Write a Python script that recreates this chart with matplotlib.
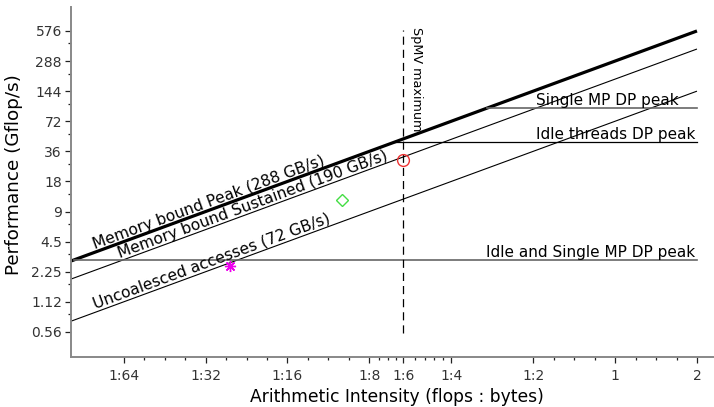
import numpy as np
import matplotlib
matplotlib.use("Agg")
import matplotlib.pyplot as plt
from matplotlib.ticker import FixedLocator, NullFormatter

# ---- data ----
x_ticks = [1/64, 1/32, 1/16, 1/8, 1/6, 1/4, 1/2, 1, 2]
x_tick_labels = ["1:64", "1:32", "1:16", "1:8", "1:6", "1:4", "1:2", "1", "2"]
y_ticks = [0.5625, 1.125, 2.25, 4.5, 9, 18, 36, 72, 144, 288, 576]
y_tick_labels = ["0.56", "1.12", "2.25", "4.5", "9", "18", "36", "72", "144", "288", "576"]

bandwidth_names = ["Memory bound Peak (288 GB/s)",
                   "Memory bound Sustained (190 GB/s)",
                   "Uncoalesced accesses (72 GB/s)"]
bandwidth_values = [288, 190, 72]          # GB/s
bandwidth_label_ai = [0.0124, 0.0153, 0.0124]

peak_names = ["Single MP DP peak", "Idle threads DP peak", "Idle and Single MP DP peak"]
peak_values = [97, 44.3, 2.95]             # Gflop/s

point_ai = [1/6, 0.0995, 0.0385]
point_perf = [29.3, 11.7, 2.57]

spmv_ai = 1/6
ai_min, ai_max = 0.01, 2.0

# ---- figure ----
fig = plt.figure(figsize=(7.14, 4.07), dpi=100)
ax = fig.add_axes([0.0994, 0.1229, 0.9006, 0.8599])
ax.set_xscale("log", base=2)
ax.set_yscale("log", base=2)
ax.set_xlim(0.01, 2.31)
ax.set_ylim(0.316, 1000)

ai = np.array([ai_min, ai_max])
styles = [dict(color="black", lw=2.3), dict(color="black", lw=0.8), dict(color="black", lw=0.8)]
for bw, st in zip(bandwidth_values, styles):
    ax.plot(ai, bw * ai, solid_capstyle="butt", **st)

peak_styles = [dict(color="#666666", lw=1.2), dict(color="black", lw=0.9), dict(color="#666666", lw=1.2)]
for pv, st in zip(peak_values, peak_styles):
    x0 = max(pv / bandwidth_values[0], ai_min)
    ax.plot([x0, ai_max], [pv, pv], **st)

# vertical SpMV line
ax.plot([spmv_ai, spmv_ai], [0.55, 590], color="black", lw=0.9, dashes=(6.5, 4))

# points
ax.plot(point_ai[0], point_perf[0], "o", mfc="none", mec="#ee3333", ms=8.5, mew=1.0)
ax.plot(point_ai[1], point_perf[1], "D", mfc="none", mec="#44dd44", ms=6, mew=1.0)
ax.plot(point_ai[2], point_perf[2], marker=(8, 2, 0), color="#ee00ee", ms=8, mew=1.0, ls="none")

# rotation of bandwidth lines in display space
fig.canvas.draw()
p1 = ax.transData.transform((ai_min, 1.0))
p2 = ax.transData.transform((ai_max, ai_max / ai_min))
angle = np.degrees(np.arctan2(p2[1] - p1[1], p2[0] - p1[0]))

for name, bw, xa in zip(bandwidth_names, bandwidth_values, bandwidth_label_ai):
    ax.text(xa, bw * xa, name, rotation=angle, rotation_mode="anchor",
            ha="left", va="bottom", fontsize=11.2, color="black")

ax.text(0.513, peak_values[0], peak_names[0], ha="left", va="bottom", fontsize=11)
ax.text(0.513, peak_values[1], peak_names[1], ha="left", va="bottom", fontsize=11)
ax.text(1.97, peak_values[2], peak_names[2], ha="right", va="bottom", fontsize=11)

ax.annotate("SpMV maximum", xy=(spmv_ai, 630), xytext=(4.5, 0), textcoords="offset points",
            rotation=-90, rotation_mode="anchor", ha="left", va="bottom", fontsize=9.2)

# ticks
ax.xaxis.set_major_locator(FixedLocator(x_ticks))
ax.set_xticklabels(x_tick_labels)
x_minor = []
for k in range(-6, 1):
    if k in (-3, -2):
        continue
    for f in (0.25, 0.5, 0.75):
        x_minor.append(2.0 ** (k + f))
x_minor += [0.1354, 0.1458, 0.15625, 0.1833, 0.2, 0.2167, 0.2333]
ax.xaxis.set_minor_locator(FixedLocator(x_minor))
ax.xaxis.set_minor_formatter(NullFormatter())

ax.yaxis.set_major_locator(FixedLocator(y_ticks))
ax.set_yticklabels(y_tick_labels)
ax.yaxis.set_minor_locator(FixedLocator([v * 1.5 for v in y_ticks[:-1]]))
ax.yaxis.set_minor_formatter(NullFormatter())

for side in ("top", "right"):
    ax.spines[side].set_visible(False)
for side in ("left", "bottom"):
    ax.spines[side].set_color("#888888")
    ax.spines[side].set_linewidth(1.4)

ax.tick_params(which="major", direction="out", length=4.5, width=0.9, color="#222222",
               labelsize=10, labelcolor="#333333")
ax.tick_params(which="minor", direction="out", length=2.2, width=0.9, color="#222222")
ax.tick_params(axis="x", which="major", pad=4)
ax.tick_params(axis="y", which="major", pad=2)

ax.set_xlabel("Arithmetic Intensity (flops : bytes)", fontsize=12.3)
ax.set_ylabel("Performance (Gflop/s)", fontsize=13.2)
ax.xaxis.set_label_coords(0.507, -0.09)
ax.yaxis.set_label_coords(-0.074, 0.52)

fig.savefig("out.png", dpi=100)
